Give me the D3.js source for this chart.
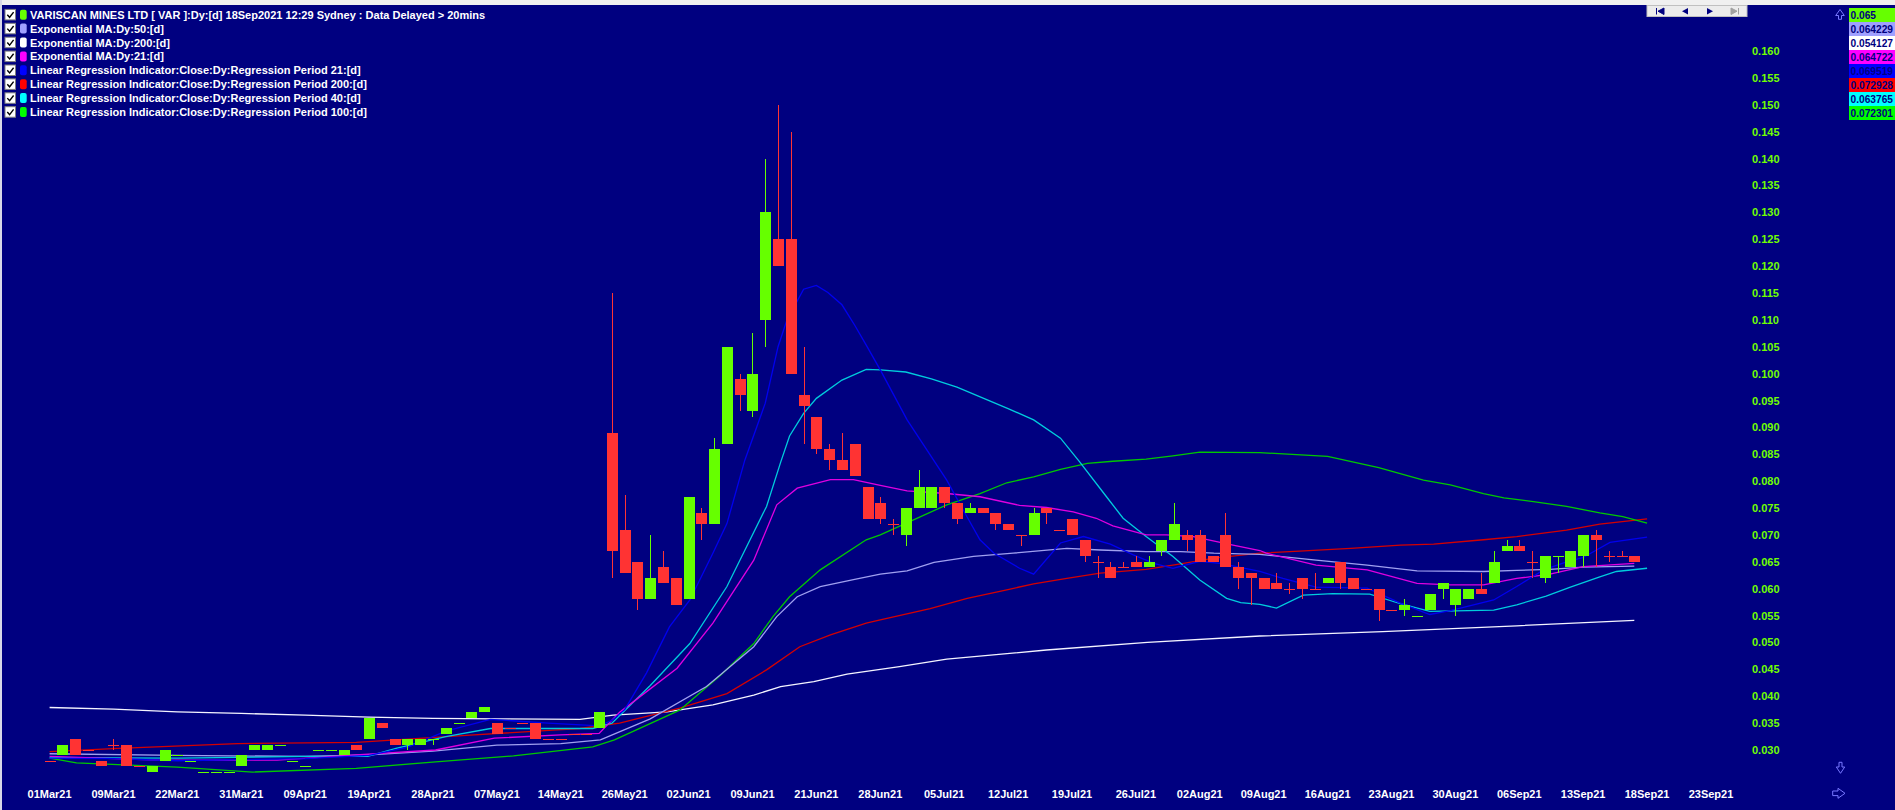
<!DOCTYPE html>
<html><head><meta charset="utf-8">
<script src="https://cdn.jsdelivr.net/npm/d3@7"></script>
<style>
html,body{margin:0;padding:0;background:#000080;overflow:hidden}
svg{display:block}
text{font-family:"Liberation Sans",Arial,sans-serif;font-weight:bold}
</style></head><body>
<svg id="chart" width="1895" height="810"></svg>
<script>
// ---------- DATA ----------
// candles: [open, high, low, close, up(1)/down(0)] one per trading bar (index 0 = 01Mar21)
const candles = [
[0.028,0.028,0.028,0.028,0],[0.029,0.031,0.029,0.031,1],[0.032,0.032,0.029,0.029,0],[0.030,0.030,0.030,0.030,0],
[0.028,0.028,0.027,0.027,0],[0.031,0.032,0.030,0.031,0],[0.031,0.031,0.027,0.027,0],[0.027,0.027,0.027,0.027,0],
[0.026,0.027,0.026,0.027,1],[0.028,0.030,0.028,0.030,1],[0.029,0.029,0.029,0.029,1],[0.028,0.028,0.028,0.028,1],
[0.026,0.026,0.026,0.026,1],[0.026,0.026,0.026,0.026,1],[0.026,0.026,0.026,0.026,1],[0.027,0.029,0.027,0.029,1],
[0.030,0.031,0.030,0.031,1],[0.030,0.031,0.030,0.031,1],[0.031,0.031,0.031,0.031,1],[0.028,0.028,0.028,0.028,1],
[0.027,0.027,0.027,0.027,1],[0.030,0.030,0.030,0.030,1],[0.030,0.030,0.030,0.030,1],[0.029,0.030,0.029,0.030,1],
[0.031,0.031,0.030,0.030,0],[0.032,0.036,0.032,0.036,1],[0.035,0.035,0.034,0.034,0],[0.032,0.032,0.031,0.031,0],
[0.031,0.032,0.030,0.032,1],[0.031,0.032,0.031,0.032,1],[0.032,0.032,0.031,0.032,1],[0.033,0.034,0.033,0.034,1],
[0.035,0.035,0.035,0.035,1],[0.036,0.037,0.036,0.037,1],[0.037,0.038,0.037,0.038,1],[0.035,0.035,0.033,0.033,0],
[0.034,0.034,0.034,0.034,0],[0.035,0.035,0.035,0.035,0],[0.035,0.035,0.032,0.032,0],[0.032,0.032,0.032,0.032,0],
[0.032,0.032,0.032,0.032,0],[0.033,0.033,0.033,0.033,0],[0.033,0.033,0.033,0.033,0],[0.034,0.037,0.034,0.037,1],
[0.089,0.115,0.062,0.067,0],[0.071,0.0775,0.063,0.063,0],[0.065,0.065,0.056,0.058,0],[0.058,0.070,0.058,0.062,1],
[0.064,0.067,0.061,0.061,0],[0.062,0.062,0.057,0.057,0],[0.058,0.077,0.058,0.077,1],[0.074,0.075,0.069,0.072,0],
[0.072,0.088,0.072,0.086,1],[0.087,0.105,0.087,0.105,1],[0.099,0.100,0.093,0.096,0],[0.093,0.1075,0.092,0.100,1],
[0.110,0.140,0.105,0.130,1],[0.125,0.150,0.120,0.120,0],[0.125,0.145,0.100,0.100,0],[0.096,0.105,0.087,0.094,0],
[0.092,0.092,0.085,0.086,0],[0.086,0.087,0.082,0.084,0],[0.084,0.089,0.082,0.082,0],[0.087,0.087,0.081,0.081,0],
[0.079,0.079,0.073,0.073,0],[0.076,0.077,0.072,0.073,0],[0.072,0.073,0.070,0.072,0],[0.070,0.075,0.068,0.075,1],
[0.075,0.082,0.075,0.079,1],[0.075,0.079,0.075,0.079,1],[0.079,0.079,0.075,0.076,0],[0.076,0.076,0.072,0.073,0],
[0.074,0.076,0.074,0.075,1],[0.075,0.075,0.074,0.074,0],[0.074,0.074,0.071,0.072,0],[0.072,0.072,0.071,0.071,0],
[0.070,0.070,0.068,0.070,0],[0.070,0.075,0.070,0.074,1],[0.075,0.075,0.072,0.074,0],[0.071,0.071,0.071,0.071,0],
[0.073,0.073,0.070,0.070,0],[0.069,0.069,0.065,0.066,0],[0.065,0.066,0.062,0.065,0],[0.064,0.065,0.062,0.062,0],
[0.064,0.065,0.064,0.064,0],[0.065,0.066,0.064,0.064,0],[0.064,0.066,0.064,0.065,1],[0.067,0.069,0.066,0.069,1],
[0.069,0.076,0.069,0.072,1],[0.070,0.071,0.067,0.069,0],[0.070,0.071,0.065,0.065,0],[0.066,0.066,0.065,0.065,0],
[0.070,0.074,0.064,0.064,0],[0.064,0.065,0.060,0.062,0],[0.063,0.063,0.057,0.062,0],[0.062,0.062,0.060,0.060,0],
[0.061,0.063,0.060,0.060,0],[0.060,0.061,0.059,0.060,0],[0.062,0.062,0.058,0.060,0],[0.060,0.063,0.060,0.060,0],
[0.061,0.062,0.061,0.062,1],[0.065,0.065,0.060,0.061,0],[0.062,0.062,0.060,0.060,0],[0.060,0.060,0.060,0.060,0],
[0.060,0.060,0.054,0.056,0],[0.056,0.056,0.056,0.056,0],[0.056,0.058,0.055,0.057,1],[0.055,0.055,0.055,0.055,1],
[0.056,0.059,0.056,0.059,1],[0.060,0.061,0.058,0.061,1],[0.057,0.060,0.055,0.060,1],[0.058,0.060,0.058,0.060,1],
[0.060,0.063,0.059,0.059,0],[0.061,0.067,0.061,0.065,1],[0.067,0.069,0.067,0.068,1],[0.068,0.069,0.067,0.067,0],
[0.065,0.067,0.062,0.065,0],[0.062,0.066,0.061,0.066,1],[0.066,0.066,0.063,0.066,1],[0.064,0.067,0.064,0.067,1],
[0.066,0.070,0.064,0.070,1],[0.070,0.071,0.064,0.069,0],[0.066,0.067,0.065,0.066,0],[0.066,0.067,0.066,0.066,0],
[0.066,0.066,0.065,0.065,0]
];

// indicator readings: [bar index, value]
const ema200 = [[0,0.0379],[5,0.0376],[10,0.0371],[15,0.0368],[20,0.0365],[25,0.0361],[30,0.0359],[35,0.0358],[41.5,0.0357],[44.1,0.0365],[48.3,0.0371],[51.9,0.0384],[55.1,0.0402],[57.2,0.0418],[59.8,0.0427],[62.4,0.0441],[66.5,0.0455],[70.2,0.0469],[78,0.0486],[85.9,0.0500],[94.7,0.0512],[104.3,0.0520],[114.8,0.0531],[124,0.0541]];
const ema50 = [[0,0.0293],[10,0.0290],[20,0.0288],[25,0.0291],[30,0.0298],[35,0.0309],[40,0.0312],[43.1,0.0319],[47,0.0358],[51.4,0.0418],[55.1,0.0492],[56.9,0.0548],[58.5,0.0585],[60.3,0.0604],[62.9,0.0617],[65,0.0627],[67.1,0.0633],[69.2,0.0649],[72.3,0.0660],[75.4,0.0666],[79.6,0.0675],[82.2,0.0672],[85.8,0.0669],[88.5,0.0669],[91.1,0.0666],[94.7,0.0664],[99.1,0.0653],[103.1,0.0644],[107,0.0633],[112.2,0.0632],[114.8,0.0634],[117.4,0.0636],[120,0.0640],[124,0.0642]];
const ema21 = [[0,0.0288],[8.5,0.0281],[17.8,0.0281],[24,0.0291],[30.2,0.0300],[34.8,0.0322],[40,0.0328],[43,0.0331],[44.6,0.0370],[49.1,0.0452],[51.9,0.0536],[55.1,0.0653],[56.9,0.0756],[58.5,0.0787],[61.1,0.0803],[62.9,0.0803],[65,0.0792],[67.1,0.0782],[70.2,0.0777],[72.8,0.0771],[75.9,0.0755],[78,0.0751],[80.1,0.0743],[81.9,0.0731],[83.2,0.0717],[85.8,0.0700],[87.4,0.0700],[89.5,0.0697],[92.6,0.0681],[94.7,0.0671],[95.2,0.0666],[99.1,0.0644],[103.1,0.0635],[107,0.0610],[109.6,0.0607],[112.2,0.0607],[114.8,0.0619],[117.4,0.0627],[120,0.0641],[124,0.0647]];
const lr21 = [[0,0.0285],[5,0.0284],[10,0.0280],[15,0.0282],[20,0.0284],[25,0.0290],[28,0.0305],[31,0.0335],[34.5,0.0357],[39,0.0350],[43,0.0345],[44,0.0355],[45,0.0375],[46.7,0.0443],[48.5,0.0529],[50.1,0.0579],[51.9,0.0666],[53,0.0721],[54.4,0.0839],[56,0.0945],[57,0.1050],[57.7,0.1100],[59,0.1157],[60,0.1164],[60.9,0.1151],[62,0.1128],[63,0.1090],[63.9,0.1053],[65,0.1007],[67.1,0.0914],[70.2,0.0802],[71.5,0.0746],[72.8,0.0691],[73.9,0.0666],[75.9,0.0638],[77,0.0627],[79.1,0.0685],[80.9,0.0697],[83,0.0683],[84.8,0.0663],[86.4,0.0647],[87.9,0.0638],[90,0.0651],[91.6,0.0647],[94.7,0.0632],[96.5,0.0619],[99.1,0.0603],[103.1,0.0601],[105.7,0.0573],[108,0.0552],[109.6,0.0559],[113,0.0579],[114.8,0.0604],[116.9,0.0635],[118.7,0.0650],[120,0.0658],[122.1,0.0686],[125,0.0696]];
const lr40 = [[0,0.0286],[10,0.0285],[20,0.0288],[24.9,0.0288],[27.1,0.0303],[31,0.0325],[34.5,0.0340],[42.5,0.0340],[44,0.0350],[47,0.0420],[50.1,0.0498],[53,0.0604],[56.1,0.0753],[57.2,0.0835],[57.9,0.0884],[59,0.0926],[60,0.0954],[62,0.0988],[63.9,0.1008],[65,0.1007],[67,0.1003],[69,0.0990],[71,0.0975],[73,0.0955],[75,0.0935],[77,0.0914],[79.1,0.0880],[80.6,0.0836],[82.7,0.0771],[84,0.0731],[85.8,0.0697],[87.9,0.0660],[90,0.0616],[92.1,0.0582],[93.2,0.0574],[94.7,0.0571],[96,0.0564],[98.1,0.0588],[100.4,0.0591],[103.3,0.0590],[105.7,0.0572],[108,0.0558],[113,0.0560],[114.8,0.0570],[117.1,0.0586],[119,0.0603],[121.3,0.0622],[122.6,0.0632],[125,0.0638]];
const lr100 = [[0,0.0285],[2.1,0.0276],[10,0.0268],[15.9,0.0259],[24,0.0266],[30.2,0.0278],[36.3,0.0289],[42.5,0.0306],[44.2,0.0319],[49.3,0.0374],[52.5,0.0439],[55.1,0.0498],[56.6,0.0548],[57.9,0.0585],[60.3,0.0635],[63.9,0.0691],[65,0.0700],[67.6,0.0728],[70.2,0.0756],[72.8,0.0777],[74.9,0.0797],[77,0.0808],[79.1,0.0822],[81.2,0.0833],[83.2,0.0837],[85.8,0.0841],[87.9,0.0847],[90,0.0854],[94.7,0.0853],[100,0.0846],[104,0.0825],[107.5,0.0802],[109.6,0.0793],[112.2,0.0777],[113.8,0.0769],[116.1,0.0762],[118.7,0.0753],[121.3,0.0741],[123.1,0.0734],[125,0.0722]];
const lr200 = [[0,0.0297],[5.4,0.0303],[14.7,0.0312],[24,0.0314],[27.1,0.0319],[33.2,0.0328],[39.4,0.0337],[41.5,0.0340],[44.6,0.0350],[49.3,0.0378],[53,0.0405],[56.1,0.0449],[58.7,0.0492],[61.1,0.0514],[63.9,0.0536],[65,0.0542],[68.9,0.0563],[71.8,0.0582],[74.9,0.0598],[77,0.0609],[79.6,0.0619],[82.2,0.0629],[85.8,0.0636],[88.5,0.0646],[91.1,0.0657],[94.7,0.0666],[97.8,0.0670],[101.8,0.0675],[105.7,0.0681],[108.3,0.0683],[112.2,0.0691],[114.8,0.0697],[118.7,0.0709],[121.3,0.0720],[125,0.0730]];

const yTicks = d3.range(0, 27).map(k => +(0.030 + k*0.005).toFixed(3));
const xTickIdx = d3.range(0, 131, 5);
const xTickLabels = ["01Mar21","09Mar21","22Mar21","31Mar21","09Apr21","19Apr21","28Apr21","07May21","14May21","26May21","02Jun21","09Jun21","21Jun21","28Jun21","05Jul21","12Jul21","19Jul21","26Jul21","02Aug21","09Aug21","16Aug21","23Aug21","30Aug21","06Sep21","13Sep21","18Sep21","23Sep21"];

const legendLabels = ["VARISCAN MINES LTD [ VAR ]:Dy:[d]  18Sep2021 12:29 Sydney : Data Delayed > 20mins","Exponential MA:Dy:50:[d]","Exponential MA:Dy:200:[d]","Exponential MA:Dy:21:[d]","Linear Regression Indicator:Close:Dy:Regression Period 21:[d]","Linear Regression Indicator:Close:Dy:Regression Period 200:[d]","Linear Regression Indicator:Close:Dy:Regression Period 40:[d]","Linear Regression Indicator:Close:Dy:Regression Period 100:[d]"];
const swatchColors = ["#66ff00","#a0a0ff","#ffffff","#ff00ff","#0000ff","#ff0000","#00ffff","#00ff00"];
const lastValues = ["0.065","0.064229","0.054127","0.064722","0.069519","0.072928","0.063765","0.072301"];

// ---------- DRAW ----------
const svg = d3.select("#chart");
const x = d3.scaleLinear().domain([0,124]).range([49.6,1634.3]);
const y = d3.scaleLinear().domain([0.030,0.160]).range([750,51]);
const UP="#66ff00", DOWN="#ff3333";

svg.append("rect").attr("width",1895).attr("height",810).attr("fill","#000080");
svg.append("rect").attr("width",1895).attr("height",5).attr("fill","#f0f0f0");
svg.append("rect").attr("x",0).attr("y",0).attr("width",2).attr("height",810).attr("fill","#d8d8e8");

// indicator lines
const line = d3.line().x(d=>x(d[0])).y(d=>y(d[1]));
const series = [
  {d:ema200,c:"#f4f4ff"},{d:lr200,c:"#d40000"},{d:lr100,c:"#00c800"},{d:ema50,c:"#a0a0f0"},
  {d:lr40,c:"#00ccdd"},{d:ema21,c:"#e000e0"},{d:lr21,c:"#0000ee"}
];
svg.append("g").selectAll("path").data(series).join("path")
  .attr("d",s=>line(s.d)).attr("fill","none").attr("stroke",s=>s.c).attr("stroke-width",1.3);

// candles
const cg = svg.append("g").attr("shape-rendering","crispEdges");
cg.selectAll("line").data(candles).join("line")
  .attr("x1",(d,i)=>Math.round(x(i))+0.5).attr("x2",(d,i)=>Math.round(x(i))+0.5)
  .attr("y1",d=>y(d[1])).attr("y2",d=>y(d[2]))
  .attr("stroke",d=>d[4]?UP:DOWN).attr("stroke-width",1);
cg.selectAll("rect").data(candles).join("rect")
  .attr("x",(d,i)=>Math.round(x(i))-5).attr("width",11)
  .attr("y",d=>Math.round(y(Math.max(d[0],d[3]))))
  .attr("height",d=>Math.max(1,Math.round(y(Math.min(d[0],d[3])))-Math.round(y(Math.max(d[0],d[3])))))
  .attr("fill",d=>d[4]?UP:DOWN);

// y axis labels
svg.append("g").selectAll("text").data(yTicks).join("text")
  .attr("x",1752).attr("y",d=>y(d)+4).attr("fill","#70ff00").attr("font-size",11)
  .text(d=>d3.format(".3f")(d));

// x axis labels
svg.append("g").selectAll("text").data(xTickIdx).join("text")
  .attr("x",d=>x(d)).attr("y",798).attr("text-anchor","middle").attr("fill","#ffffff").attr("font-size",11)
  .text((d,i)=>xTickLabels[i]);

// legend
const lg = svg.append("g");
legendLabels.forEach((t,k)=>{
  const cy = 14.7 + k*13.9;
  const g = lg.append("g");
  g.append("rect").attr("x",5).attr("y",cy-5.3).attr("width",10.5).attr("height",10.5).attr("fill","#ffffff").attr("stroke","#808080").attr("stroke-width",1);
  g.append("path").attr("d",`M7.3,${cy} L9.6,${cy+2.6} L13.6,${cy-2.6}`).attr("fill","none").attr("stroke","#000000").attr("stroke-width",1.4);
  g.append("rect").attr("x",20).attr("y",cy-5).attr("width",6.7).attr("height",10).attr("rx",2).attr("fill",swatchColors[k]);
  g.append("text").attr("x",30).attr("y",cy+4).attr("fill","#ffffff").attr("font-size",11).text(t);
});

// last-value boxes
const vb = svg.append("g");
lastValues.forEach((v,k)=>{
  vb.append("rect").attr("x",1849).attr("y",8+k*14).attr("width",46).attr("height",14).attr("fill",swatchColors[k]);
  vb.append("text").attr("x",1850.5).attr("y",8+k*14+11).attr("fill","#000080").attr("font-size",10.2).text(v);
});

// navigation bar
const nb = svg.append("g");
nb.append("rect").attr("x",1647).attr("y",5.5).attr("width",100).attr("height",11).attr("fill","#ececec").attr("stroke","#c0c0c0");
nb.append("path").attr("d","M1656.5,8 V14.5 M1664,8 L1658,11.2 L1664,14.5 Z").attr("stroke","#000080").attr("fill","#000080").attr("stroke-width",1);
nb.append("path").attr("d","M1688,8 L1682,11.2 L1688,14.5 Z").attr("fill","#000080");
nb.append("path").attr("d","M1707,8 L1713,11.2 L1707,14.5 Z").attr("fill","#000080");
nb.append("path").attr("d","M1731,8 L1737,11.2 L1731,14.5 Z M1738.5,8 V14.5").attr("stroke","#a0a0a0").attr("fill","#a0a0a0").attr("stroke-width",1);

// scroll arrows
const ac = "#7878ff";
svg.append("path").attr("d","M1840,9.5 L1844.3,15.5 L1841.5,15.5 L1841.5,19.3 L1838.5,19.3 L1838.5,15.5 L1835.7,15.5 Z").attr("fill","none").attr("stroke",ac);
svg.append("path").attr("d","M1840.5,773.3 L1844.7,767 L1842,767 L1842,762.3 L1839,762.3 L1839,767 L1836.3,767 Z").attr("fill","none").attr("stroke",ac);
svg.append("path").attr("d","M1845,793.3 L1838,788.3 L1838,791 L1832.7,791 L1832.7,795.6 L1838,795.6 L1838,798.3 Z").attr("fill","none").attr("stroke",ac);
</script>
</body></html>
